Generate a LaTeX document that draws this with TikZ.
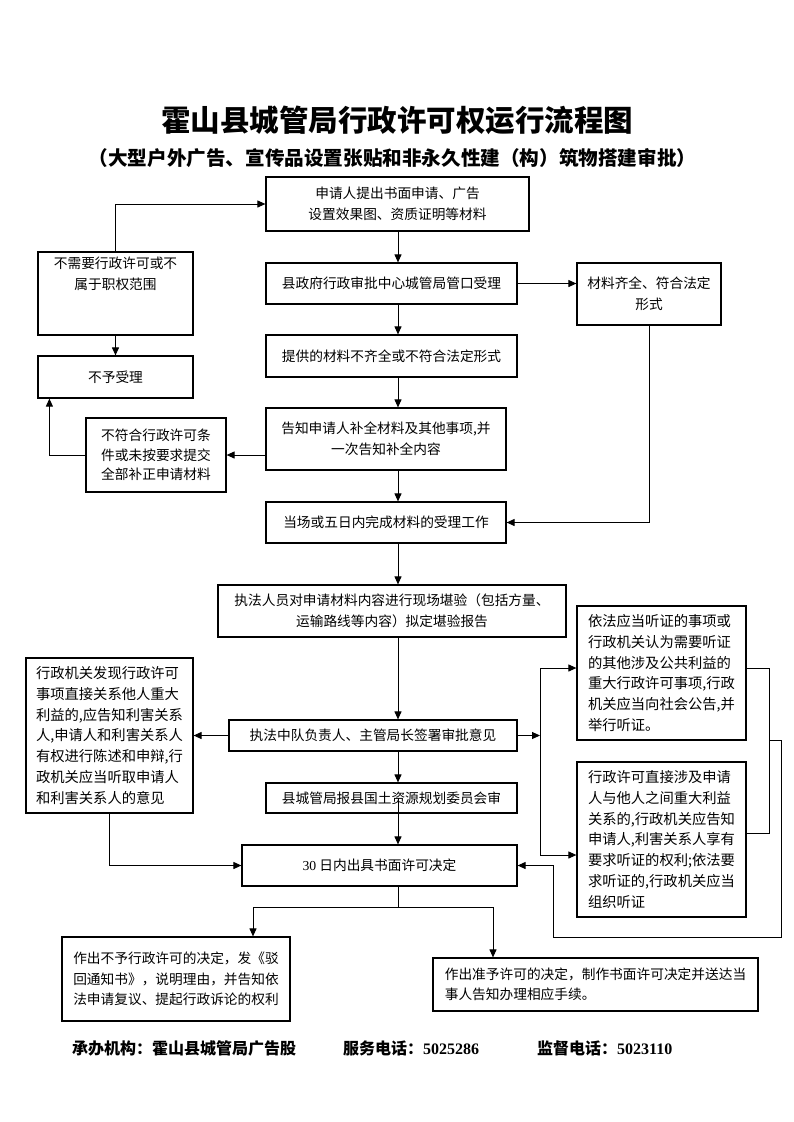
\documentclass[tikz,border=0pt]{standalone}
\usepackage{fontspec}
\setmainfont{Liberation Serif}
\newfontfamily\cjk{Noto Sans CJK SC}
\newfontfamily\numfont{Liberation Serif}
\usetikzlibrary{arrows.meta,calc}
\newcommand{\bodyfont}{\cjk\fontsize{13.7}{20.5}\selectfont}
\newcommand{\wideFont}{\cjk\fontsize{14.3}{20.8}\selectfont}
\tikzset{
  box/.style={draw, line width=1.2pt, inner sep=0pt, align=center, font=\bodyfont},
  wbox/.style={box, align=left, font=\wideFont},
  arr/.style={line width=1pt, -{Triangle[length=8pt,width=7pt]}},
  ln/.style={line width=1pt},
  ttl/.style={inner sep=0pt, font=\cjk\bfseries\fontsize{29.5}{32}\selectfont},
  subttl/.style={inner sep=0pt, font=\cjk\bfseries\fontsize{19.6}{22}\selectfont},
  foot/.style={inner sep=0pt, anchor=west, font=\cjk\bfseries\fontsize{16}{18}\selectfont},
}
\begin{document}
\begin{tikzpicture}[x=1pt,y=-1pt]
\useasboundingbox[fill=white] (0,0) rectangle (793,1122);

% titles
\node[ttl] (title) at (397,120) {霍山县城管局行政许可权运行流程图};
\node[subttl] (subtitle) at (392.5,158) {（大型户外广告、宣传品设置张贴和非永久性建（构）筑物搭建审批）};

% main column
\node[box, minimum width=263pt, minimum height=54pt] (A) at (397.5,204) {申请人提出书面申请、广告\\设置效果图、资质证明等材料};
\node[box, minimum width=251pt, minimum height=41pt] (B) at (391.5,283.5) {县政府行政审批中心城管局管口受理};
\node[box, minimum width=251pt, minimum height=42pt] (C) at (391.5,356) {提供的材料不齐全或不符合法定形式};
\node[box, minimum width=240pt, minimum height=62pt] (D) at (386,439) {告知申请人补全材料及其他事项,并\\一次告知补全内容};
\node[box, minimum width=240pt, minimum height=41pt] (I) at (386,522.5) {当场或五日内完成材料的受理工作};
\node[box, minimum width=348pt, minimum height=52pt] (J) at (392,611) {执法人员对申请材料内容进行现场堪验（包括方量、\\运输路线等内容）拟定堪验报告};
\node[box, minimum width=288pt, minimum height=31pt] (K) at (373,735.5) {执法中队负责人、主管局长签署审批意见};
\node[box, minimum width=251pt, minimum height=30pt] (L) at (391.5,798) {县城管局报县国土资源规划委员会审};
\node[box, minimum width=275pt, minimum height=41pt] (M) at (379.5,865.5) {{\numfont 30} 日内出具书面许可决定};

% left side
\node[box, minimum width=155pt, minimum height=83pt] (E) at (115.5,293.5) {不需要行政许可或不\\属于职权范围\\~\\~};
\node[box, minimum width=155pt, minimum height=42pt] (F) at (115.5,377) {不予受理};
\node[box, minimum width=140pt, minimum height=74pt, font=\cjk\fontsize{13.7}{19.5}\selectfont] (G) at (156,455) {不符合行政许可条\\件或未按要求提交\\全部补正申请材料};
\node[wbox, minimum width=167pt, minimum height=155pt] (N) at (109.5,735.5) {行政机关发现行政许可\\事项直接关系他人重大\\利益的,应告知利害关系\\人,申请人和利害关系人\\有权进行陈述和申辩,行\\政机关应当听取申请人\\和利害关系人的意见};

% right side
\node[box, minimum width=144pt, minimum height=62pt] (H) at (649,294) {材料齐全、符合法定\\形式};
\node[wbox, minimum width=169pt, minimum height=134pt] (O) at (661.5,673) {依法应当听证的事项或\\行政机关认为需要听证\\的其他涉及公共利益的\\重大行政许可事项,行政\\机关应当向社会公告,并\\举行听证。};
\node[wbox, minimum width=169pt, minimum height=155pt] (Q) at (661.5,839.5) {行政许可直接涉及申请\\人与他人之间重大利益\\关系的,行政机关应告知\\申请人,利害关系人享有\\要求听证的权利;依法要\\求听证的,行政机关应当\\组织听证};

% results
\node[box, minimum width=228pt, minimum height=84pt] (R) at (176,979) {作出不予行政许可的决定，发《驳\\回通知书》，说明理由，并告知依\\法申请复议、提起行政诉论的权利};
\node[box, align=left, minimum width=325pt, minimum height=53pt] (S) at (595.5,984.5) {作出准予许可的决定，制作书面许可决定并送达当\\事人告知办理相应手续。};

% footer
\node[foot] (f1) at (72,1048) {承办机构：霍山县城管局广告股};
\node[foot] (f2) at (343,1048) {服务电话：{\numfont\bfseries 5025286}};
\node[foot] (f3) at (537,1048) {监督电话：{\numfont\bfseries 5023110}};

% helper coordinates
\coordinate (sp) at (398,0);
\coordinate (gl) at ([xshift=12pt]F.south west);
\coordinate (br1) at (540,668);
\coordinate (br2) at (540,855);
\coordinate (rb1) at (769,668);
\coordinate (rb2) at (769,833);
\coordinate (rb3) at (769,740);
\coordinate (ob1) at (781,740);
\coordinate (ob2) at (553,937);
\coordinate (split) at (398,907);
\coordinate (rtop) at ([xshift=77pt]R.north);
\coordinate (stop) at ([xshift=-102.5pt]S.north);

% spine arrows
\draw[arr] (sp|-A.south) -- (sp|-B.north);
\draw[arr] (sp|-B.south) -- (sp|-C.north);
\draw[arr] (sp|-C.south) -- (sp|-D.north);
\draw[arr] (sp|-D.south) -- (sp|-I.north);
\draw[arr] (sp|-I.south) -- (sp|-J.north);
\draw[arr] (sp|-J.south) -- (sp|-K.north);
\draw[arr] (sp|-K.south) -- (sp|-L.north);
\draw[arr] (sp|-L.center) -- (sp|-M.north);

% left branch
\draw[arr] (E.north) |- (A.west);
\draw[arr] (E.south) -- (F.north);
\draw[arr] (G.east -| D.west) -- (G.east);
\draw[arr] (G.west) -| (gl);
\draw[arr] (K.west) -- (K.west -| N.east);
\draw[arr] (N.south) |- (M.west);

% right branch
\draw[arr] (B.east) -- (B.east -| H.west);
\draw[arr] (H.south) |- (I.east);
\draw[arr] (K.east) -- (K.east -| br1);
\draw[ln] (br1) -- (br2);
\draw[arr] (br1) -- (br1 -| O.west);
\draw[arr] (br2) -- (br2 -| Q.west);
\draw[ln] (rb1 -| O.east) -- (rb1) -- (rb2) -- (rb2 -| Q.east);
\draw[arr] (rb3) -- (ob1) |- (ob2) |- (M.east);

% decisions
\draw[ln] (sp|-M.south) -- (split);
\draw[arr] (split) -| (rtop);
\draw[arr] (split) -| (stop);
\end{tikzpicture}
\end{document}
